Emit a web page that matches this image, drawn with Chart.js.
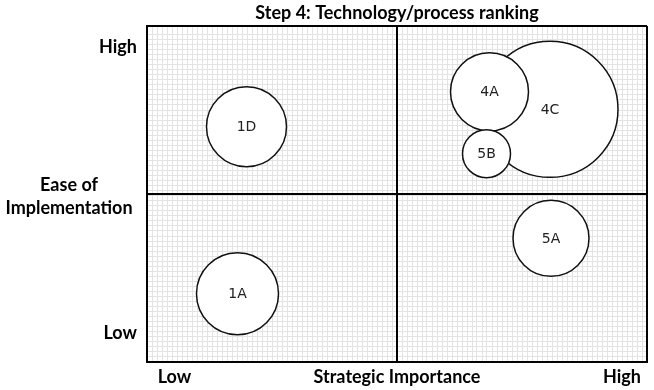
<!DOCTYPE html>
<html>
<head>
<meta charset="utf-8">
<script src="https://cdn.jsdelivr.net/npm/chart.js@4"></script>
<style>body{margin:0;background:#fff}</style>
</head>
<body>
<canvas id="myChart" width="654" height="390"></canvas>
<script>
// bubbles: 4C first so 4A and 5B sit on top of it
const bubbleLabels = ['4C', '4A', '5B', '1D', '1A', '5A'];
const strategicImportance = [8.06, 6.85, 6.79, 1.99, 1.81, 8.08];
const easeOfImplementation = [7.52, 8.04, 6.2, 7.0, 2.03, 3.68];
const bubbleSize = [68, 39, 24, 40, 41, 38];

const xTickLabels = ['Low', 'Strategic Importance', 'High'];
const xTickPos = [0.55, 5, 9.5];
const yTickLabels = ['Low', 'High'];
const yTickPos = [0.86, 9.37];
const yTitleLabel = [['Ease of', 'Implementation']];
const yTitlePos = [4.93];

const labelFont = { family: 'Lato', size: 18, weight: 'bold' };

// the two-line y title is centred around x=69; measure it so it lands there
const mctx = document.createElement('canvas').getContext('2d');
mctx.font = 'bold 18px Lato';
const titleWidest = mctx.measureText('Implementation').width;

const bubbleText = {
  id: 'bubbleText',
  afterDatasetsDraw(chart) {
    const ctx = chart.ctx;
    const meta = chart.getDatasetMeta(0);
    ctx.save();
    ctx.font = '14px "DejaVu Sans"';
    ctx.fillStyle = '#222';
    ctx.textAlign = 'center';
    ctx.textBaseline = 'middle';
    meta.data.forEach((pt, i) => ctx.fillText(bubbleLabels[i], pt.x, pt.y + 1));
    ctx.restore();
  }
};

// label-only axes should not push the plot area around
const noMargins = (s) => {
  s.paddingTop = 0; s.paddingBottom = 0; s.paddingLeft = 0; s.paddingRight = 0;
};
const flatX = (s) => { noMargins(s); s.height = 0; };
const flatY = (s) => { noMargins(s); s.width = 0; };

const fineGrid = (step, pos) => ({
  type: 'linear', min: 0, max: 10, position: pos,
  afterFit: pos === 'bottom' ? flatX : flatY,
  ticks: { display: false, stepSize: step, maxTicksLimit: 1000 },
  grid: { color: '#e3e3e3', lineWidth: 1, drawTicks: false, z: -2 },
  border: { display: false }
});

var ctx = document.getElementById('myChart').getContext('2d');
var myChart = new Chart(ctx, {
  type: 'bubble',
  data: {
    datasets: [{
      data: strategicImportance.map((x, i) => ({ x: x, y: easeOfImplementation[i], r: bubbleSize[i] })),
      backgroundColor: '#fff',
      borderColor: '#111',
      borderWidth: 1.5,
      clip: false
    }]
  },
  options: {
    responsive: false,
    animation: false,
    events: [],
    layout: { autoPadding: false, padding: { left: 4, right: 7, top: 0, bottom: 0 } },
    plugins: {
      legend: { display: false },
      tooltip: { enabled: false },
      title: {
        display: true,
        text: 'Step 4: Technology/process ranking',
        fullSize: false,
        color: '#000',
        font: { family: 'Lato', size: 18, weight: 'bold' },
        padding: { top: 2, bottom: 2.4 }
      }
    },
    scales: {
      x: {
        type: 'linear', min: 0, max: 10, position: 'bottom',
        afterFit: flatX,
        ticks: { display: false, stepSize: 5 },
        grid: { color: '#000', lineWidth: 2, drawTicks: false },
        border: { color: '#000', width: 2 }
      },
      y: {
        type: 'linear', min: 0, max: 10, position: 'left',
        afterFit: flatY,
        ticks: { display: false, stepSize: 5 },
        grid: { color: '#000', lineWidth: 2, drawTicks: false },
        border: { color: '#000', width: 2 }
      },
      xFine: fineGrid(0.1, 'bottom'),
      yFine: fineGrid(0.15, 'left'),
      xLab: {
        type: 'linear', min: 0, max: 10, position: 'bottom', weight: 2,
        afterBuildTicks: s => { s.ticks = xTickPos.map(v => ({ value: v })); },
        afterFit: s => { noMargins(s); s.height = 28; },
        ticks: { padding: 4, color: '#000', font: labelFont, autoSkip: false, maxRotation: 0,
                 callback: (v, i) => xTickLabels[i] },
        grid: { display: false, drawTicks: false },
        border: { display: false }
      },
      yLab: {
        type: 'linear', min: 0, max: 10, position: 'left', weight: 1,
        afterBuildTicks: s => { s.ticks = yTickPos.map(v => ({ value: v })); },
        afterFit: s => { noMargins(s); s.width = 56; },
        ticks: { padding: 10, color: '#000', font: labelFont, autoSkip: false,
                 callback: (v, i) => yTickLabels[i] },
        grid: { display: false, drawTicks: false },
        border: { display: false }
      },
      yTitle: {
        type: 'linear', min: 0, max: 10, position: 'left', weight: 2,
        afterBuildTicks: s => { s.ticks = yTitlePos.map(v => ({ value: v })); },
        afterFit: s => { noMargins(s); s.width = 87; },
        ticks: { mirror: true, padding: 69 - 91 - titleWidest / 2, crossAlign: 'center',
                 color: '#000', autoSkip: false,
                 font: { family: 'Lato', size: 18, weight: 'bold', lineHeight: 1.28 },
                 callback: (v, i) => yTitleLabel[i] },
        grid: { display: false, drawTicks: false },
        border: { display: false }
      }
    }
  },
  plugins: [bubbleText]
});
</script>
</body>
</html>
